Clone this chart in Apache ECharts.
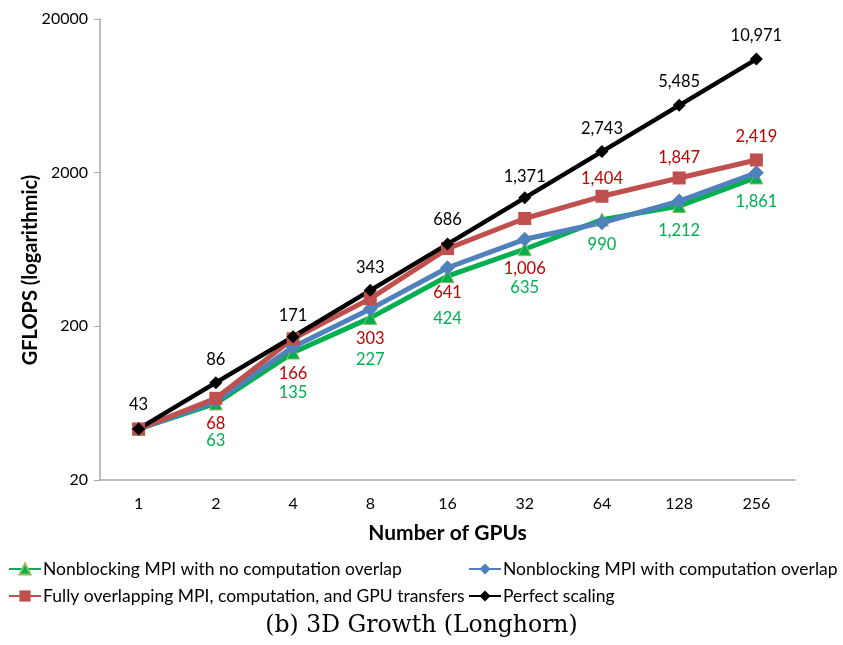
<!DOCTYPE html>
<html>
<head>
<meta charset="utf-8">
<script src="https://cdn.jsdelivr.net/npm/echarts@6/dist/echarts.min.js"></script>
<style>html,body{margin:0;padding:0;background:#fff}#c{width:843px;height:645px}</style>
</head>
<body>
<div id="c"></div>
<script>
// ---- data ----
const categories = ['1', '2', '4', '8', '16', '32', '64', '128', '256'];
const noOverlap = [43, 63, 135, 227, 424, 635, 990, 1212, 1861];
const withOverlap = [43, 65, 147, 259, 481, 737, 944, 1307, 1997];
const fullOverlap = [43, 68, 166, 303, 641, 1006, 1404, 1847, 2419];
const perfect = [43, 86, 171, 343, 686, 1371, 2743, 5485, 10971];
const yTicks = [20, 200, 2000, 20000];
const seriesNames = [
  'Nonblocking MPI with no computation overlap',
  'Nonblocking MPI with computation overlap',
  'Fully overlapping MPI, computation, and GPU transfers',
  'Perfect scaling'
];
const yTitle = 'GFLOPS (logarithmic)';
const xTitle = 'Number of GPUs';
const caption = '(b) 3D Growth (Longhorn)';

// ---- label placement (vertical offset of label centre from point, px) ----
const dyGreen = [null, 37, 40, 42, 42, 38, 25, 25, 24];
const dyRed = [null, 25, 35, 40, 44, 50, -18, -20, -23];
const dyBlack = [-24, -23, -21, -23, -24, -21, -23, -24, -23];

const FONT = 'Lato';
const fmt = v => v.toLocaleString('en-US');

function withLabels(values, dys, color) {
  return values.map((v, i) => {
    if (dys[i] == null) return {value: v, label: {show: false}};
    return {
      value: v,
      label: {
        show: true, position: 'inside', offset: [0, dys[i]],
        color: color, fontFamily: FONT, fontSize: 16.5,
        formatter: p => fmt(p.value)
      }
    };
  });
}

const legendCommon = {
  orient: 'vertical', top: 560, itemGap: 9, itemWidth: 32, itemHeight: 14, padding: 0,
  textStyle: {fontFamily: FONT, fontSize: 17.5, color: '#000', padding: [0, 0, 0, -3]}
};

const chart = echarts.init(document.getElementById('c'), null, {renderer: 'canvas'});
chart.setOption({
  animation: false,
  backgroundColor: '#fff',
  grid: {left: 100, right: 48, top: 19, bottom: 165, containLabel: false},
  xAxis: {
    type: 'category', data: categories, boundaryGap: true,
    axisLine: {lineStyle: {color: '#a6a6a6', width: 1.5}},
    axisTick: {length: 6, lineStyle: {color: '#a6a6a6', width: 1}},
    axisLabel: {fontFamily: FONT, fontSize: 16, color: '#000', margin: 16},
    name: xTitle, nameLocation: 'middle', nameGap: 43,
    nameTextStyle: {fontFamily: FONT, fontSize: 21, fontWeight: 'bold', color: '#000'}
  },
  yAxis: {
    type: 'log', logBase: 10, min: 20, max: 20000,
    axisLine: {show: true, lineStyle: {color: '#a6a6a6', width: 1.5}},
    axisTick: {show: true, length: 6, customValues: yTicks, lineStyle: {color: '#a6a6a6', width: 1}},
    axisLabel: {fontFamily: FONT, fontSize: 16, color: '#000', margin: 12, customValues: yTicks,
      formatter: v => String(Math.round(v))},
    splitLine: {show: false},
    minorTick: {show: false}
  },
  graphic: [{
    type: 'text', x: 31, y: 270, rotation: Math.PI / 2,
    style: {text: yTitle, fontFamily: FONT, fontSize: 20, fontWeight: 'bold', fill: '#000',
      align: 'center', verticalAlign: 'middle'}
  }],
  legend: [
    Object.assign({left: 8, data: [seriesNames[0], seriesNames[2]]}, legendCommon),
    Object.assign({left: 468, data: [seriesNames[1], seriesNames[3]]}, legendCommon)
  ],
  title: {
    text: caption, left: 'center', top: 614, padding: 0,
    textStyle: {fontFamily: 'DejaVu Serif', fontSize: 23.5, fontWeight: 'normal', color: '#000'}
  },
  series: [
    {
      name: seriesNames[0], type: 'line', data: withLabels(noOverlap, dyGreen, '#00b050'),
      symbol: 'triangle', symbolSize: 13,
      lineStyle: {color: '#00b050', width: 5},
      itemStyle: {color: '#00b050', borderColor: '#9bbb59', borderWidth: 1}
    },
    {
      name: seriesNames[1], type: 'line', data: withOverlap,
      symbol: 'diamond', symbolSize: 15,
      lineStyle: {color: '#4f81bd', width: 5},
      itemStyle: {color: '#4f81bd'}
    },
    {
      name: seriesNames[2], type: 'line', data: withLabels(fullOverlap, dyRed, '#c00000'),
      symbol: 'rect', symbolSize: 13,
      lineStyle: {color: '#c0504d', width: 5},
      itemStyle: {color: '#c0504d'}
    },
    {
      name: seriesNames[3], type: 'line', data: withLabels(perfect, dyBlack, '#000'),
      symbol: 'diamond', symbolSize: 13,
      lineStyle: {color: '#000', width: 4.5},
      itemStyle: {color: '#000'}
    }
  ]
});
</script>
</body>
</html>
